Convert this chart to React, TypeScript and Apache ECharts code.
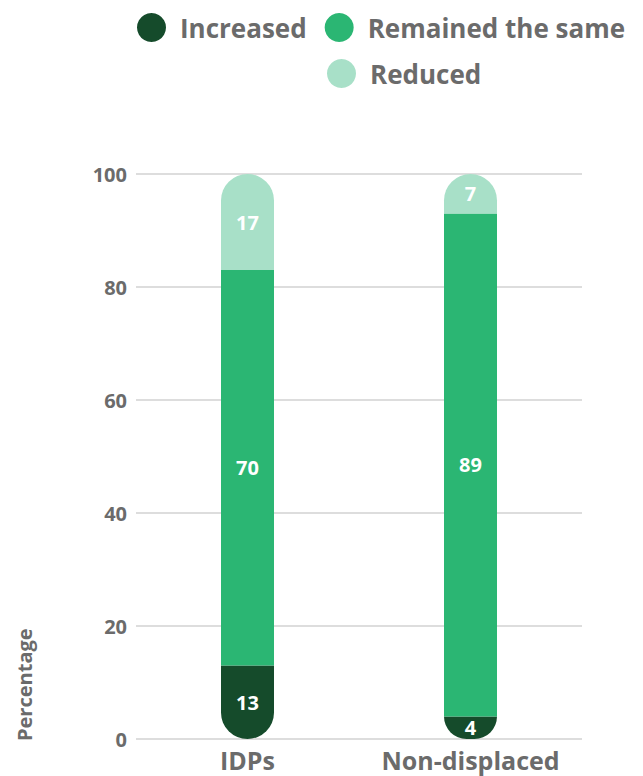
import React, { useEffect, useRef } from "react";
import * as echarts from "echarts";

const categories = ["IDPs", "Non-displaced"];
const increased = [13, 4];
const remained = [70, 89];
const reduced = [17, 7];
const yTicks = [0, 20, 40, 60, 80, 100];

const FONT = "'Open Sans', 'Noto Sans', sans-serif";
const GRAY = "#6b6b6b";
const DARK = "#154b2b";
const MID = "#2bb673";
const LIGHT = "#a8e0c8";

export default function App() {
  const ref = useRef<HTMLDivElement>(null);
  useEffect(() => {
    document.body.style.margin = "0";
    if (!ref.current) return;
    const chart = echarts.init(ref.current, undefined, { renderer: "svg" });
    const r = 26.5;
    const label = {
      show: true,
      position: "inside",
      color: "#fff",
      fontFamily: FONT,
      fontWeight: "bold",
      fontSize: 20,
    };
    const legendText = {
      color: GRAY,
      fontFamily: FONT,
      fontWeight: "bold",
      fontSize: 26,
      padding: [0, 0, 0, 9],
    };
    chart.setOption({
      animation: false,
      textStyle: { fontFamily: FONT },
      legend: [
        {
          data: ["Increased", "Remained the same"],
          left: 132,
          top: 8,
          icon: "circle",
          itemWidth: 29,
          itemHeight: 29,
          itemGap: 18,
          textStyle: legendText,
        },
        {
          data: ["Reduced"],
          left: 322,
          top: 54,
          icon: "circle",
          itemWidth: 29,
          itemHeight: 29,
          textStyle: legendText,
        },
      ],
      grid: { left: 136, right: 61, top: 174, bottom: 37, containLabel: false },
      xAxis: {
        type: "category",
        data: categories,
        axisLine: { show: false },
        axisTick: { show: false },
        axisLabel: {
          interval: 0,
          color: GRAY,
          fontFamily: FONT,
          fontWeight: "bold",
          fontSize: 25,
          margin: 8,
        },
      },
      yAxis: {
        type: "value",
        min: yTicks[0],
        max: yTicks[yTicks.length - 1],
        interval: 20,
        axisLine: { show: false },
        axisTick: { show: false },
        splitLine: { lineStyle: { color: "#dddddd", width: 2 } },
        axisLabel: {
          color: GRAY,
          fontFamily: FONT,
          fontWeight: "bold",
          fontSize: 20,
          margin: 9,
        },
      },
      graphic: [
        {
          type: "text",
          x: 24,
          y: 741,
          rotation: Math.PI / 2,
          style: {
            text: "Percentage",
            fill: GRAY,
            font: `bold 20px ${FONT}`,
            textAlign: "left",
            textVerticalAlign: "middle",
          },
        },
      ],
      series: [
        {
          name: "Increased",
          type: "bar",
          stack: "total",
          barWidth: 53,
          data: increased,
          itemStyle: { color: DARK, borderRadius: [0, 0, r, r] },
          label,
        },
        {
          name: "Remained the same",
          type: "bar",
          stack: "total",
          barWidth: 53,
          data: remained,
          itemStyle: { color: MID },
          label,
        },
        {
          name: "Reduced",
          type: "bar",
          stack: "total",
          barWidth: 53,
          data: reduced,
          itemStyle: { color: LIGHT, borderRadius: [r, r, 0, 0] },
          label,
        },
      ],
    });
    return () => chart.dispose();
  }, []);
  return <div ref={ref} style={{ width: 643, height: 776 }} />;
}
